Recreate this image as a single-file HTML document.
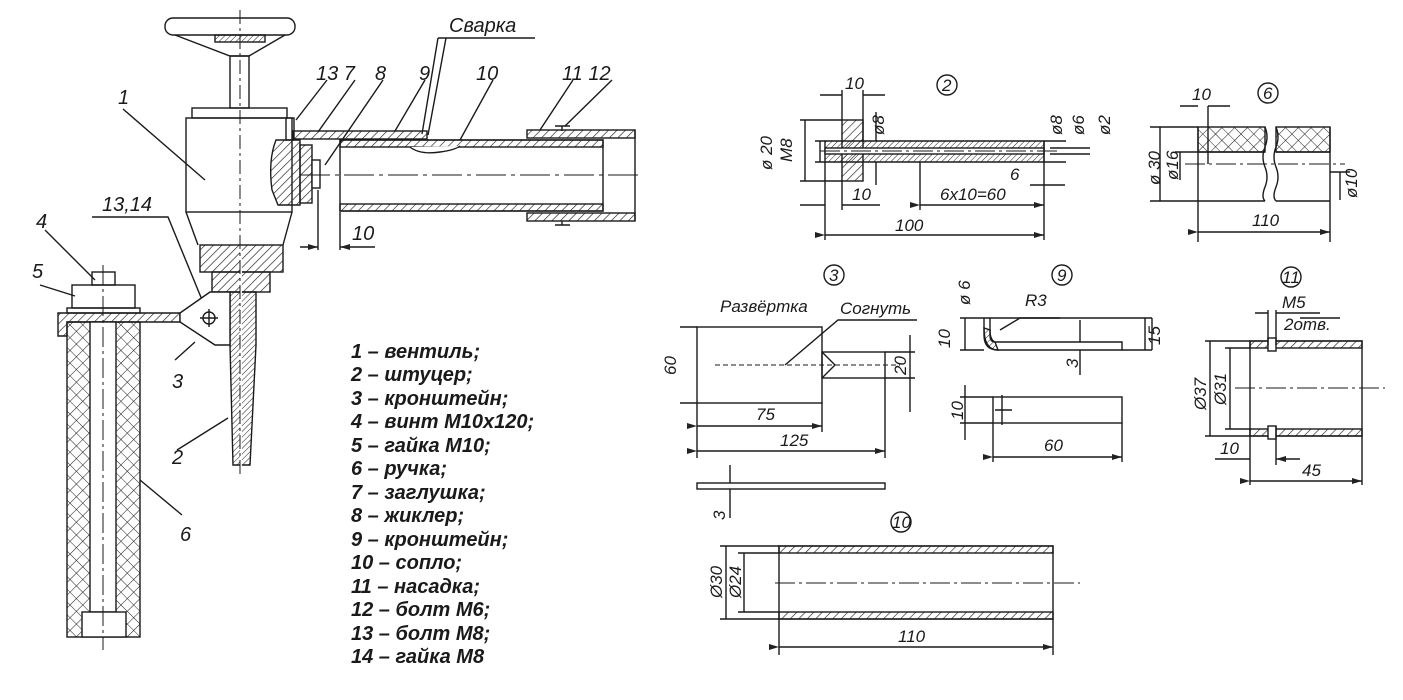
<!DOCTYPE html>
<html><head><meta charset="utf-8"><style>
html,body{margin:0;padding:0;background:#fff;}
svg{display:block;}
text{font-family:"Liberation Sans","DejaVu Sans",sans-serif;font-style:italic;fill:#1a1a1a;}
</style></head><body>
<svg width="1403" height="700" viewBox="0 0 1403 700" xmlns="http://www.w3.org/2000/svg">
<defs>
<pattern id="h" width="6" height="6" patternUnits="userSpaceOnUse" patternTransform="rotate(45)"><line x1="0" y1="0" x2="0" y2="6" stroke="#222" stroke-width="1.3"/></pattern>
<pattern id="hs" width="4" height="4" patternUnits="userSpaceOnUse" patternTransform="rotate(45)"><line x1="0" y1="0" x2="0" y2="4" stroke="#222" stroke-width="1"/></pattern>
<pattern id="x" width="9" height="9" patternUnits="userSpaceOnUse" patternTransform="rotate(45)"><path d="M0 0V9M0 0H9" stroke="#222" stroke-width="1.1" fill="none"/></pattern>
<marker id="a" markerWidth="10" markerHeight="6" refX="10" refY="3" orient="auto" markerUnits="userSpaceOnUse"><path d="M0 0L10 3L0 6z" fill="#222"/></marker>
</defs>
<g stroke="#1a1a1a" stroke-width="1.4" fill="none">
<rect x="165" y="18" width="130" height="17" rx="8" fill="#fff"/>
<path d="M175 35 L230 56 L249 56 L285 35"/>
<rect x="215" y="35" width="50" height="7" fill="url(#hs)"/>
<rect x="230" y="56" width="19" height="52"/>
<rect x="192" y="108" width="95" height="10"/>
<rect x="186" y="118" width="106" height="94"/>
<path d="M186 212 L198 245 M292 212 L283 245"/>
<rect x="200" y="245" width="83" height="27" fill="url(#h)"/>
<rect x="212" y="272" width="58" height="20" fill="url(#h)"/>
<path d="M230 292 L256 292 L256 345 L250 465 L233 465 L230 345 Z" fill="url(#hs)"/>
<line x1="241" y1="250" x2="241" y2="470" stroke-width="1.8" stroke="#fff"/>
<line x1="240" y1="10" x2="240" y2="475" stroke-width="1" stroke-dasharray="14,4,3,4"/>
<path d="M276 140 Q268 160 272 190 L278 205 L300 205 L300 140 Z" fill="url(#h)"/>
<rect x="300" y="145" width="12" height="58" fill="url(#h)"/>
<rect x="312" y="160" width="8" height="28" fill="#fff"/>
<rect x="293" y="131" width="134" height="8" fill="url(#h)"/>
<rect x="286" y="118" width="8" height="22"/>
<rect x="340" y="140" width="263" height="71"/>
<rect x="340" y="140" width="263" height="7" fill="url(#h)"/>
<rect x="340" y="204" width="263" height="7" fill="url(#h)"/>
<path d="M410 147 Q420 155 440 152 Q455 150 460 146" fill="#fff"/>
<rect x="527" y="130" width="108" height="8" fill="url(#h)"/>
<rect x="527" y="213" width="108" height="8" fill="url(#h)"/>
<line x1="635" y1="130" x2="635" y2="221"/>
<path d="M555 126H570M562 126V131M555 225H570M562 221V225"/>
<line x1="300" y1="175" x2="640" y2="175" stroke-width="1" stroke-dasharray="30,5,4,5"/>
<path d="M318 190V250M340 212V250"/>
<line x1="300" y1="247" x2="318" y2="247" marker-end="url(#a)"/>
<line x1="375" y1="247" x2="340" y2="247" marker-end="url(#a)"/>
<path d="M123 109L205 180M438 38H535M438 38L422 134M446 38L428 135M327 80L296 120M355 80L318 132M383 80L325 165M425 80L395 131M493 80L460 140M573 80L540 130M612 80L565 126"/>
<path d="M92 217H168L207 312M45 230L95 280M40 285L75 296M175 360L195 342M177 450L228 418M182 515L140 480"/>
<rect x="92" y="272" width="23" height="13"/>
<rect x="72" y="285" width="63" height="23"/>
<rect x="67" y="308" width="73" height="5"/>
<path d="M58 313H180V322H67V336H58Z" fill="url(#h)"/>
<path d="M180 313L210 292H230V345H215L180 322Z" fill="#fff"/>
<circle cx="209" cy="318" r="6"/>
<path d="M200 318H218M209 309V327"/>
<rect x="67" y="322" width="73" height="315" fill="url(#x)"/>
<rect x="90" y="322" width="26" height="290" fill="#fff"/>
<rect x="82" y="612" width="44" height="25" fill="#fff"/>
<line x1="103" y1="265" x2="103" y2="650" stroke-width="1" stroke-dasharray="20,4,3,4"/>

<circle cx="947" cy="85" r="10"/>
<rect x="842" y="120" width="21" height="61" fill="url(#h)"/>
<path d="M825 141H1044V162H825Z" fill="url(#hs)"/>
<rect x="825" y="148" width="219" height="6" fill="#fff"/>
<line x1="820" y1="151" x2="1060" y2="151" stroke-width="1" stroke-dasharray="20,4,3,4"/>
<path d="M800 120H842M800 181H842M805 120V181M815 141H825M815 162H825M820 141V162"/>
<path d="M842 90V120M863 90V141M820 95H842M885 95H863"/>
<path d="M825 162V240M1044 162V240M920 162V210M1044 141V170"/>
<line x1="825" y1="235" x2="1044" y2="235" marker-start="url(#a)" marker-end="url(#a)"/>
<line x1="920" y1="205" x2="1044" y2="205" marker-start="url(#a)" marker-end="url(#a)"/>
<path d="M800 205H825M842 181V210M880 205H842"/>
<path d="M1030 185H1065M1044 141H1066M1044 162H1066M1050 148H1090M1050 154H1090"/>
<line x1="876" y1="112" x2="876" y2="141"/><line x1="876" y1="185" x2="876" y2="162"/>
<circle cx="1268" cy="93" r="10"/>
<rect x="1198" y="127" width="67" height="25" fill="url(#x)"/>
<rect x="1276" y="127" width="54" height="25" fill="url(#x)"/>
<path d="M1198 127V242M1208 152V164M1208 152H1265M1198 201H1265M1276 201H1330M1330 127V242M1276 152H1330"/>
<path d="M1265 127q4 10 0 20t0 20t0 20t0 14M1276 127q4 10 0 20t0 20t0 20t0 14"/>
<line x1="1185" y1="164" x2="1345" y2="164" stroke-width="1" stroke-dasharray="20,4,3,4"/>
<path d="M1150 127H1198M1150 201H1198M1160 127V201M1175 152H1208M1180 152V180M1330 172H1350M1340 172V200"/>
<line x1="1198" y1="232" x2="1330" y2="232" marker-start="url(#a)" marker-end="url(#a)"/>
<path d="M1180 106H1198M1208 106H1230M1208 106V152"/>
<circle cx="834" cy="275" r="10"/>
<rect x="697" y="327" width="125" height="76"/>
<rect x="822" y="352" width="63" height="26"/>
<path d="M822 352L835 365L822 378"/>
<line x1="715" y1="365" x2="900" y2="365" stroke-dasharray="5,3" stroke-width="1"/>
<path d="M785 365L838 320H917M885 352H915M885 378H915M910 335V412M680 327H697M680 403H697"/>
<path d="M697 403V458M822 403V432M885 378V458"/>
<line x1="697" y1="426" x2="822" y2="426" marker-start="url(#a)" marker-end="url(#a)"/>
<line x1="697" y1="451" x2="885" y2="451" marker-start="url(#a)" marker-end="url(#a)"/>
<rect x="697" y="483" width="188" height="6"/>
<path d="M730 465V483M730 489V518"/>
<circle cx="1062" cy="275" r="10"/>
<path d="M984 318H1152M984 318V335Q984 350 998 350H1122V342H995Q990 342 990 335V318" fill="none"/>
<path d="M984 328Q984 350 998 350L995 342Q990 340 990 330Z" fill="url(#hs)"/>
<path d="M1152 318V350M1122 350H1152M1145 318V350M960 318H984M960 350H984M965 318V350M1000 330L1020 318H1060M1080 320V342M1080 350V375"/>
<rect x="993" y="397" width="129" height="26"/>
<path d="M1002 395V425M995 410H1012M993 423V462M1122 423V462M960 397H993M960 423H993M965 385V440"/>
<line x1="993" y1="457" x2="1122" y2="457" marker-start="url(#a)" marker-end="url(#a)"/>
<circle cx="1291" cy="277" r="10"/>
<rect x="1250" y="341" width="112" height="95"/>
<rect x="1250" y="341" width="112" height="7" fill="url(#h)"/>
<rect x="1250" y="429" width="112" height="7" fill="url(#h)"/>
<rect x="1268" y="338" width="8" height="13" fill="#fff"/><rect x="1268" y="426" width="8" height="13" fill="#fff"/>
<path d="M1268 310V345M1276 310V345M1276 426V465M1255 313H1268M1276 313H1320M1300 318H1340"/>
<line x1="1235" y1="388" x2="1385" y2="388" stroke-width="1" stroke-dasharray="20,4,3,4"/>
<path d="M1205 341H1250M1205 436H1250M1210 341V436M1225 348H1250M1225 429H1250M1230 348V429M1250 436V485M1362 436V485"/>
<line x1="1215" y1="459" x2="1250" y2="459"/><line x1="1300" y1="459" x2="1276" y2="459" marker-end="url(#a)"/>
<line x1="1250" y1="481" x2="1362" y2="481" marker-start="url(#a)" marker-end="url(#a)"/>
<circle cx="901" cy="522" r="10"/>
<rect x="779" y="546" width="274" height="73"/>
<rect x="779" y="546" width="274" height="7" fill="url(#h)"/>
<rect x="779" y="612" width="274" height="7" fill="url(#h)"/>
<line x1="775" y1="583" x2="1080" y2="583" stroke-width="1" stroke-dasharray="20,4,3,4"/>
<path d="M720 546H779M720 619H779M726 546V619M738 553H779M738 612H779M744 553V612M779 619V655M1053 619V655"/>
<line x1="779" y1="647" x2="1053" y2="647" marker-start="url(#a)" marker-end="url(#a)"/>
</g>
<g font-size="20">
<text x="449" y="32">Сварка</text>
<text x="118" y="104">1</text>
<text x="316" y="80">13 7</text>
<text x="375" y="80">8</text>
<text x="419" y="80">9</text>
<text x="476" y="80">10</text>
<text x="562" y="80">11 12</text>
<text x="102" y="211">13,14</text>
<text x="36" y="228">4</text>
<text x="32" y="278">5</text>
<text x="172" y="388">3</text>
<text x="172" y="464">2</text>
<text x="180" y="541">6</text>
<text x="352" y="240">10</text>
</g>
<g font-size="20" font-weight="bold">
<text x="351" y="358">1 – вентиль;</text>
<text x="351" y="381">2 – штуцер;</text>
<text x="351" y="405">3 – кронштейн;</text>
<text x="351" y="428">4 – винт М10х120;</text>
<text x="351" y="452">5 – гайка М10;</text>
<text x="351" y="475">6 – ручка;</text>
<text x="351" y="499">7 – заглушка;</text>
<text x="351" y="522">8 – жиклер;</text>
<text x="351" y="546">9 – кронштейн;</text>
<text x="351" y="569">10 – сопло;</text>
<text x="351" y="593">11 – насадка;</text>
<text x="351" y="616">12 – болт М6;</text>
<text x="351" y="640">13 – болт М8;</text>
<text x="351" y="663">14 – гайка М8</text>
</g>
<g font-size="17">
<text x="942" y="91">2</text><text x="1263" y="99">6</text><text x="829" y="281">3</text><text x="1057" y="281">9</text><text x="1282" y="283">11</text><text x="892" y="528">10</text>
<text x="845" y="89">10</text>
<text x="852" y="200">10</text>
<text x="1010" y="180">6</text>
<text x="940" y="200">6x10=60</text>
<text x="895" y="231">100</text>
<text transform="translate(772,170) rotate(-90)">ø 20</text>
<text transform="translate(792,162) rotate(-90)">M8</text>
<text transform="translate(884,135) rotate(-90)">ø8</text>
<text transform="translate(1062,135) rotate(-90)">ø8</text>
<text transform="translate(1084,135) rotate(-90)">ø6</text>
<text transform="translate(1110,135) rotate(-90)">ø2</text>
<text x="1192" y="100">10</text>
<text transform="translate(1160,185) rotate(-90)">ø 30</text>
<text transform="translate(1178,180) rotate(-90)">ø16</text>
<text transform="translate(1357,198) rotate(-90)">ø10</text>
<text x="1252" y="226">110</text>
<text x="720" y="312">Развёртка</text>
<text x="840" y="314">Согнуть</text>
<text transform="translate(676,375) rotate(-90)">60</text>
<text transform="translate(906,375) rotate(-90)">20</text>
<text x="756" y="420">75</text>
<text x="780" y="446">125</text>
<text transform="translate(725,520) rotate(-90)">3</text>
<text transform="translate(970,305) rotate(-90)">ø 6</text>
<text x="1025" y="306">R3</text>
<text transform="translate(950,348) rotate(-90)">10</text>
<text transform="translate(1160,345) rotate(-90)">15</text>
<text transform="translate(1078,368) rotate(-90)">3</text>
<text transform="translate(963,420) rotate(-90)">10</text>
<text x="1044" y="451">60</text>
<text x="1282" y="308">M5</text>
<text x="1284" y="330">2отв.</text>
<text transform="translate(1206,410) rotate(-90)">Ø37</text>
<text transform="translate(1226,405) rotate(-90)">Ø31</text>
<text x="1220" y="454">10</text>
<text x="1302" y="476">45</text>
<text transform="translate(722,598) rotate(-90)">Ø30</text>
<text transform="translate(741,598) rotate(-90)">Ø24</text>
<text x="898" y="642">110</text>
</g>
</svg>
</body></html>
